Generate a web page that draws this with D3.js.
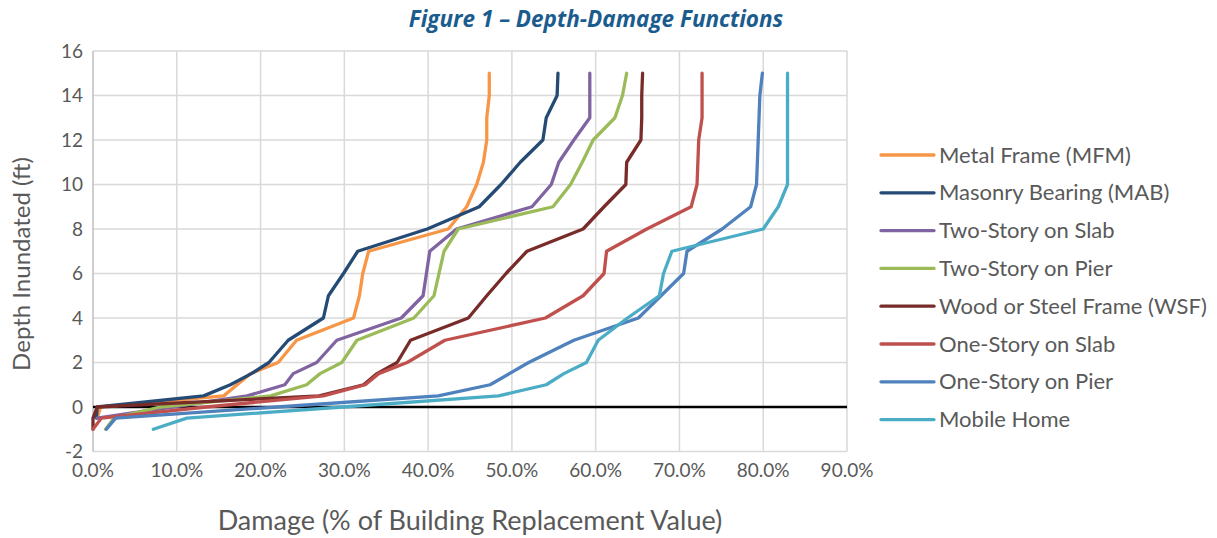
<!DOCTYPE html>
<html>
<head>
<meta charset="utf-8">
<script src="https://cdn.jsdelivr.net/npm/d3@7"></script>
<style>
  body { margin: 0; background: #fff; }
  text { font-family: Lato, "Open Sans", sans-serif; }
</style>
</head>
<body>
<script>
// depth (ft) shared by all curves
var depths = [-1, -0.5, 0, 0.5, 1, 1.5, 2, 3, 4, 5, 6, 7, 8, 9, 10, 11, 12, 13, 14, 15];

// damage (% of building replacement value), one value per depth, null = no point
var metalFrame    = [null, 0.5, 0.9, 15.6, 17.2, 18.8, 22.1, 24.3, 31.1, 31.8, 32.2, 32.9, 42.4, 44.6, 45.8, 46.6, 47.0, 47.0, 47.3, 47.3];
var masonry       = [null, 0.4, 0.5, 13.2, 16.4, 18.9, 21.0, 23.3, 27.5, 28.1, 29.9, 31.6, 39.9, 46.1, 48.7, 51.0, 53.7, 54.1, 55.4, 55.5];
var twoStorySlab  = [null, 0.5, 9.5, 18.4, 22.9, 23.9, 26.7, 29.1, 36.8, 39.4, 39.8, 40.2, 43.4, 52.4, 54.7, 55.6, 57.4, 59.3, 59.3, 59.3];
var twoStoryPier  = [1.5, 2.5, 8.0, 21.2, 25.5, 27.1, 29.7, 31.5, 38.3, 40.7, 41.3, 41.9, 43.6, 54.9, 57.0, 58.4, 59.7, 62.3, 63.2, 63.7];
var woodSteel     = [0, 0, 0.5, 27.0, 32.3, 33.9, 36.3, 37.9, 44.8, 47.0, 49.3, 51.8, 58.5, 61.0, 63.6, 63.7, 65.4, 65.5, 65.5, 65.6];
var oneStorySlab  = [0, 1.0, 13.5, 27.5, 32.5, 34.1, 37.5, 42.0, 54.0, 58.5, 61.0, 61.3, 66.1, 71.4, 72.1, 72.2, 72.3, 72.7, 72.7, 72.7];
var oneStoryPier  = [1.6, 2.7, 22.0, 41.2, 47.4, 49.7, 52.0, 57.4, 65.1, 67.8, 70.5, 70.9, 75.1, 78.5, 79.2, 79.3, 79.4, 79.5, 79.6, 79.9];
var mobileHome    = [7.2, 11.2, 29.8, 48.4, 54.1, 56.2, 58.9, 60.3, 63.8, 67.6, 68.1, 69.1, 80.0, 81.8, 82.9, 82.9, 82.9, 82.9, 82.9, 82.9];

var seriesNames = ["Metal Frame (MFM)", "Masonry Bearing (MAB)", "Two-Story on Slab", "Two-Story on Pier",
                   "Wood or Steel Frame (WSF)", "One-Story on Slab", "One-Story on Pier", "Mobile Home"];
var seriesValues = [metalFrame, masonry, twoStorySlab, twoStoryPier, woodSteel, oneStorySlab, oneStoryPier, mobileHome];
var seriesColors = ["#f79646", "#254b75", "#8064a2", "#9bbb59", "#772c2a", "#c0504d", "#4f81bd", "#4bacc6"];

var xTicks = [0, 10, 20, 30, 40, 50, 60, 70, 80, 90];
var yTicks = [-2, 0, 2, 4, 6, 8, 10, 12, 14, 16];

var W = 1217, H = 538;
var plotLeft = 93, plotRight = 847, plotTop = 51, plotBottom = 451.5;

var svg = d3.select("body").append("svg")
    .attr("width", W)
    .attr("height", H);

var x = d3.scaleLinear().domain([0, 90]).range([plotLeft, plotRight]);
var y = d3.scaleLinear().domain([-2, 16]).range([plotBottom, plotTop]);

// gridlines
svg.append("g").selectAll("line")
    .data(yTicks).enter().append("line")
    .attr("x1", plotLeft).attr("x2", plotRight)
    .attr("y1", function (d) { return y(d); })
    .attr("y2", function (d) { return y(d); })
    .style("stroke", "#d9d9d9").style("stroke-width", 1.5);

svg.append("g").selectAll("line")
    .data(xTicks).enter().append("line")
    .attr("x1", function (d) { return x(d); })
    .attr("x2", function (d) { return x(d); })
    .attr("y1", plotTop).attr("y2", plotBottom)
    .style("stroke", function (d) { return d === 0 ? "#bfbfbf" : "#d9d9d9"; })
    .style("stroke-width", 1.5);

// tick labels
svg.append("g").selectAll("text")
    .data(yTicks).enter().append("text")
    .attr("x", 83)
    .attr("y", function (d) { return y(d) + 6.5; })
    .attr("text-anchor", "end")
    .style("font-size", "19px").style("fill", "#595959")
    .text(function (d) { return d; });

svg.append("g").selectAll("text")
    .data(xTicks).enter().append("text")
    .attr("x", function (d) { return x(d); })
    .attr("y", 477)
    .attr("text-anchor", "middle")
    .style("font-size", "19px").style("fill", "#595959")
    .text(function (d) { return d.toFixed(1) + "%"; });

// zero line
svg.append("line")
    .attr("x1", x(0)).attr("x2", x(90))
    .attr("y1", y(0)).attr("y2", y(0))
    .style("stroke", "#000").style("stroke-width", 2.5);

// curves
var line = d3.line()
    .defined(function (d) { return d[1] !== null; })
    .x(function (d) { return x(d[1]); })
    .y(function (d) { return y(d[0]); });

svg.append("g").selectAll("path")
    .data(seriesValues).enter().append("path")
    .attr("d", function (vals) { return line(depths.map(function (dp, i) { return [dp, vals[i]]; })); })
    .style("fill", "none")
    .style("stroke", function (d, i) { return seriesColors[i]; })
    .style("stroke-width", 3.3)
    .style("stroke-linejoin", "round")
    .style("stroke-linecap", "round");

// title
svg.append("text")
    .attr("x", 596).attr("y", 27)
    .attr("text-anchor", "middle")
    .style("font-family", "'Open Sans', sans-serif")
    .style("font-size", "22.5px").style("font-weight", "bold").style("font-style", "italic")
    .style("fill", "#1b5c8f")
    .text("Figure 1 \u2013 Depth-Damage Functions");

// axis titles
svg.append("text")
    .attr("transform", "translate(30,264) rotate(-90)")
    .attr("text-anchor", "middle")
    .style("font-size", "24px").style("fill", "#595959")
    .text("Depth Inundated (ft)");

svg.append("text")
    .attr("x", 470).attr("y", 530)
    .attr("text-anchor", "middle")
    .style("font-size", "27px").style("fill", "#595959")
    .text("Damage (% of Building Replacement Value)");

// legend
var legend = svg.append("g").selectAll("g")
    .data(seriesNames).enter().append("g")
    .attr("transform", function (d, i) { return "translate(881," + (155 + i * 37.8) + ")"; });

legend.append("line")
    .attr("x1", 0).attr("x2", 53)
    .style("stroke", function (d, i) { return seriesColors[i]; })
    .style("stroke-width", 3.3)
    .style("stroke-linecap", "round");

legend.append("text")
    .attr("x", 58).attr("y", 7.5)
    .style("font-size", "22px").style("fill", "#595959")
    .text(function (d) { return d; });
</script>
</body>
</html>
